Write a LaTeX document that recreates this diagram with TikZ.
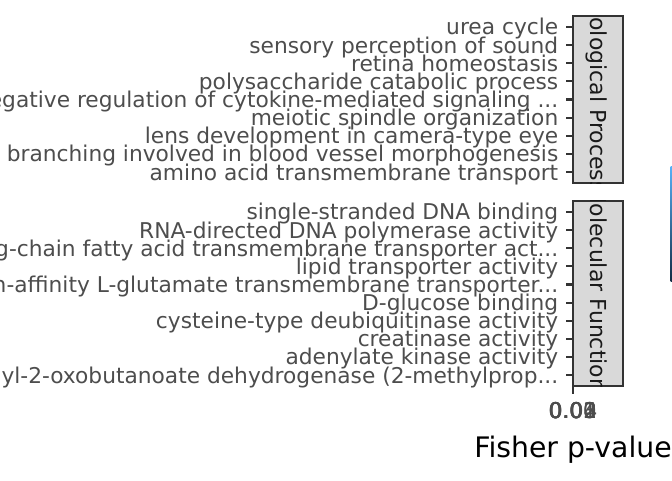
\documentclass[tikz,border=0pt]{standalone}
\usepackage{fontspec}
\setmainfont{DejaVu Sans}
\usetikzlibrary{shadings}

\definecolor{axtext}{HTML}{4D4D4D}
\definecolor{grey20}{HTML}{333333}
\definecolor{stripgrey}{HTML}{D9D9D9}
\definecolor{striptext}{HTML}{1A1A1A}
\definecolor{barhi}{HTML}{56B1F7}
\definecolor{barlo}{HTML}{132B43}

\begin{document}
\begin{tikzpicture}[x=0.75pt, y=-0.75pt,
  ylab/.style={anchor=base east, inner sep=0pt, text=axtext, font=\fontsize{16.3}{19}\selectfont},
  xlab/.style={anchor=base, inner sep=0pt, text=axtext, font=\fontsize{16.3}{19}\selectfont},
  xtitle/.style={anchor=base, inner sep=0pt, text=black, font=\fontsize{21.2}{24}\selectfont},
  axtick/.style={draw=grey20, line width=1.6pt},
  stripbox/.style={draw=grey20, fill=stripgrey, line width=1.2pt, minimum width=37.5pt, inner sep=0pt},
  striplab/.style={anchor=base, rotate=-90, inner sep=0pt, text=striptext, font=\fontsize{16.5}{19}\selectfont}]
  \useasboundingbox (0,0) rectangle (672,480);
  \clip (0,0) rectangle (672,480);

  % facet strips
  \node[stripbox, minimum height=125.25pt] (bpstrip) at (598,99.5) {};
  \node[stripbox, minimum height=138.75pt] (mfstrip) at (598,293.5) {};
  \begin{scope}
    \clip (bpstrip.north west) rectangle (bpstrip.south east);
    \node[striplab] (bpname) at (590.5,94.5) {Biological Process};
  \end{scope}
  \begin{scope}
    \clip (mfstrip.north west) rectangle (mfstrip.south east);
    \node[striplab] (mfname) at (590.5,288.5) {Molecular Function};
  \end{scope}

  % y axis, Biological Process
  \coordinate (yticklen) at (565.5,0);
  \coordinate (bp1) at (572.5,26.89);
  \coordinate (bp2) at (572.5,45.04);
  \coordinate (bp3) at (572.5,63.20);
  \coordinate (bp4) at (572.5,81.35);
  \coordinate (bp5) at (572.5,99.50);
  \coordinate (bp6) at (572.5,117.65);
  \coordinate (bp7) at (572.5,135.80);
  \coordinate (bp8) at (572.5,153.96);
  \coordinate (bp9) at (572.5,172.11);
  \draw[axtick] (bp1) -- (bp1 -| yticklen);
  \draw[axtick] (bp2) -- (bp2 -| yticklen);
  \draw[axtick] (bp3) -- (bp3 -| yticklen);
  \draw[axtick] (bp4) -- (bp4 -| yticklen);
  \draw[axtick] (bp5) -- (bp5 -| yticklen);
  \draw[axtick] (bp6) -- (bp6 -| yticklen);
  \draw[axtick] (bp7) -- (bp7 -| yticklen);
  \draw[axtick] (bp8) -- (bp8 -| yticklen);
  \draw[axtick] (bp9) -- (bp9 -| yticklen);
  \node[ylab] (bp1lab) at (558.5,34.89) {urea cycle};
  \node[ylab] (bp2lab) at (558.5,53.04) {sensory perception of sound};
  \node[ylab] (bp3lab) at (558.5,71.20) {retina homeostasis};
  \node[ylab] (bp4lab) at (558.5,89.35) {polysaccharide catabolic process};
  \node[ylab] (bp5lab) at (558.5,107.50) {negative regulation of cytokine-mediated signaling ...};
  \node[ylab] (bp6lab) at (558.5,125.65) {meiotic spindle organization};
  \node[ylab] (bp7lab) at (558.5,143.80) {lens development in camera-type eye};
  \node[ylab] (bp8lab) at (558.5,161.96) {branching involved in blood vessel morphogenesis};
  \node[ylab] (bp9lab) at (558.5,180.11) {amino acid transmembrane transport};

  % y axis, Molecular Function
  \coordinate (mf1) at (572.5,211.88);
  \coordinate (mf2) at (572.5,230.02);
  \coordinate (mf3) at (572.5,248.16);
  \coordinate (mf4) at (572.5,266.29);
  \coordinate (mf5) at (572.5,284.43);
  \coordinate (mf6) at (572.5,302.57);
  \coordinate (mf7) at (572.5,320.71);
  \coordinate (mf8) at (572.5,338.84);
  \coordinate (mf9) at (572.5,356.98);
  \coordinate (mf10) at (572.5,375.12);
  \draw[axtick] (mf1) -- (mf1 -| yticklen);
  \draw[axtick] (mf2) -- (mf2 -| yticklen);
  \draw[axtick] (mf3) -- (mf3 -| yticklen);
  \draw[axtick] (mf4) -- (mf4 -| yticklen);
  \draw[axtick] (mf5) -- (mf5 -| yticklen);
  \draw[axtick] (mf6) -- (mf6 -| yticklen);
  \draw[axtick] (mf7) -- (mf7 -| yticklen);
  \draw[axtick] (mf8) -- (mf8 -| yticklen);
  \draw[axtick] (mf9) -- (mf9 -| yticklen);
  \draw[axtick] (mf10) -- (mf10 -| yticklen);
  \node[ylab] (mf1lab) at (558.5,219.88) {single-stranded DNA binding};
  \node[ylab] (mf2lab) at (558.5,238.02) {RNA-directed DNA polymerase activity};
  \node[ylab] (mf3lab) at (558.5,256.16) {long-chain fatty acid transmembrane transporter act...};
  \node[ylab] (mf4lab) at (558.5,274.29) {lipid transporter activity};
  \node[ylab] (mf5lab) at (558.5,292.43) {high-affinity L-glutamate transmembrane transporter...};
  \node[ylab] (mf6lab) at (558.5,310.57) {D-glucose binding};
  \node[ylab] (mf7lab) at (558.5,328.71) {cysteine-type deubiquitinase activity};
  \node[ylab] (mf8lab) at (558.5,346.84) {creatinase activity};
  \node[ylab] (mf9lab) at (558.5,364.98) {adenylate kinase activity};
  \node[ylab] (mf10lab) at (558.5,383.12) {3-methyl-2-oxobutanoate dehydrogenase (2-methylprop...};

  % x axis
  \coordinate (xt0) at (573,386);
  \coordinate (xt0end) at (573,393.5);
  \draw[axtick] (xt0) -- (xt0end);
  \node[xlab] (x0lab) at (572.5,418.5) {0.00};
  \node[xlab] (x1lab) at (572.7,418.5) {0.01};
  \node[xlab] (x2lab) at (572.9,418.5) {0.02};
  \node[xlab] (x3lab) at (573.1,418.5) {0.03};
  \node[xlab] (x4lab) at (573.3,418.5) {0.04};
  \node[xtitle] (xname) at (573,457) {Fisher p-value};

  % colour bar, cut by the right edge
  \shade[top color=barhi, bottom color=barlo] (670.7,166.7) rectangle (674,281.7);
\end{tikzpicture}
\end{document}
